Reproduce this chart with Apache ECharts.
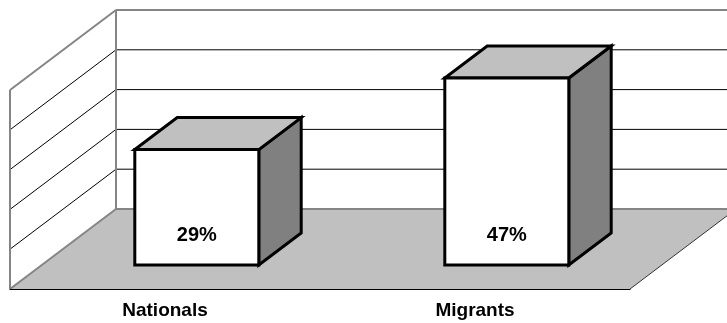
<!DOCTYPE html>
<html>
<head>
<meta charset="utf-8">
<script src="https://cdn.jsdelivr.net/npm/echarts@6/dist/echarts.min.js"></script>
<style>
  html, body { margin: 0; padding: 0; background: #fff; }
  #chart { width: 727px; height: 323px; }
</style>
</head>
<body>
<div id="chart"></div>
<script>
// Share of each group (percent)
const categories = ['Nationals', 'Migrants'];
const shares = [29, 47];
const valueTicks = [0, 10, 20, 30, 40, 50];

// Oblique projection of the 3D chamber: full depth vector (px),
// and the depth slice that the boxes occupy.
const DEPTH = [106, -80];
const BOX_FRONT = 0.3;
const BOX_BACK = 0.7;
const FONT = '"Liberation Sans", Arial, sans-serif';

function line(x1, y1, x2, y2, color, width) {
  return {
    type: 'line',
    shape: { x1: x1, y1: y1, x2: x2, y2: y2 },
    style: { stroke: color, lineWidth: width }
  };
}

// Side wall, back wall and floor with their gridlines
function renderChamber(params, api) {
  const cs = params.coordSys;
  const x0 = cs.x, x1 = cs.x + cs.width;
  const dx = DEPTH[0], dy = DEPTH[1];
  const yAt = v => api.coord([0, v])[1];
  const yBot = yAt(valueTicks[0]);
  const yTop = yAt(valueTicks[valueTicks.length - 1]);
  const children = [];

  children.push({
    type: 'polygon',
    shape: { points: [[x0, yBot], [x0 + dx, yBot + dy], [x1 + dx, yBot + dy], [x1, yBot]] },
    style: { fill: '#c0c0c0', stroke: null }
  });
  // right floor edge
  children.push(line(x1, yBot, x1 + dx, yBot + dy, '#333', 1));

  valueTicks.slice(1, -1).forEach(v => {
    const y = yAt(v);
    children.push(line(x0, y, x0 + dx, y + dy, '#000', 1));
    children.push(line(x0 + dx, y + dy, x1 + dx, y + dy, '#000', 1));
  });

  const grey = '#858585';
  children.push(line(x0, yTop, x0, yBot, grey, 2));
  children.push(line(x0, yTop, x0 + dx, yTop + dy, grey, 2));
  children.push(line(x0 + dx, yTop + dy, x1 + dx, yTop + dy, grey, 2));
  children.push(line(x0 + dx, yTop + dy, x0 + dx, yBot + dy, grey, 2));
  children.push(line(x0 + dx, yBot + dy, x1 + dx, yBot + dy, grey, 2));
  children.push(line(x0, yBot, x0 + dx, yBot + dy, grey, 2));

  return { type: 'group', children: children };
}

// One 3D box per category
function renderBox(params, api) {
  const idx = api.value(0);
  const v = api.value(1);
  const base = api.coord([idx, 0]);
  const top = api.coord([idx, v]);
  const band = api.size([1, 0])[0];
  const w = band * 0.4;
  const fx = DEPTH[0] * BOX_FRONT, fy = DEPTH[1] * BOX_FRONT;
  const bx = DEPTH[0] * (BOX_BACK - BOX_FRONT), by = DEPTH[1] * (BOX_BACK - BOX_FRONT);
  const l = base[0] - w / 2 + fx, r = l + w;
  const b = base[1] + fy, t = top[1] + fy;
  const edge = { stroke: '#000', lineWidth: 3, lineJoin: 'miter' };

  return {
    type: 'group',
    children: [
      {
        type: 'polygon',
        shape: { points: [[r, t], [r + bx, t + by], [r + bx, b + by], [r, b]] },
        style: Object.assign({ fill: '#808080' }, edge)
      },
      {
        type: 'polygon',
        shape: { points: [[l, t], [r, t], [r + bx, t + by], [l + bx, t + by]] },
        style: Object.assign({ fill: '#c0c0c0' }, edge)
      },
      {
        type: 'rect',
        shape: { x: l, y: t, width: w, height: b - t },
        style: Object.assign({ fill: '#fff' }, edge)
      },
      {
        type: 'text',
        style: {
          text: v + '%',
          x: (l + r) / 2,
          y: b - 30,
          align: 'center',
          verticalAlign: 'middle',
          fill: '#000',
          fontSize: 20,
          fontWeight: 'bold',
          fontFamily: FONT
        }
      }
    ]
  };
}

const chart = echarts.init(document.getElementById('chart'), null, { renderer: 'canvas' });
chart.setOption({
  animation: false,
  backgroundColor: '#fff',
  grid: { left: 10, top: 90, width: 620, height: 199 },
  xAxis: {
    type: 'category',
    data: categories,
    z: 5,
    axisLine: { lineStyle: { color: '#000', width: 1 } },
    axisTick: { length: 4, lineStyle: { color: '#000' } },
    axisLabel: {
      color: '#000',
      fontFamily: FONT,
      fontWeight: 'bold',
      fontSize: 19,
      margin: 12
    }
  },
  yAxis: {
    type: 'value',
    min: valueTicks[0],
    max: valueTicks[valueTicks.length - 1],
    interval: 10,
    show: false
  },
  series: [
    { type: 'custom', name: 'chamber', data: [0], renderItem: renderChamber, silent: true, z: 1 },
    {
      type: 'custom',
      name: 'share',
      data: shares.map((v, i) => [i, v]),
      encode: { x: 0, y: 1 },
      renderItem: renderBox,
      z: 3
    }
  ]
});
</script>
</body>
</html>
